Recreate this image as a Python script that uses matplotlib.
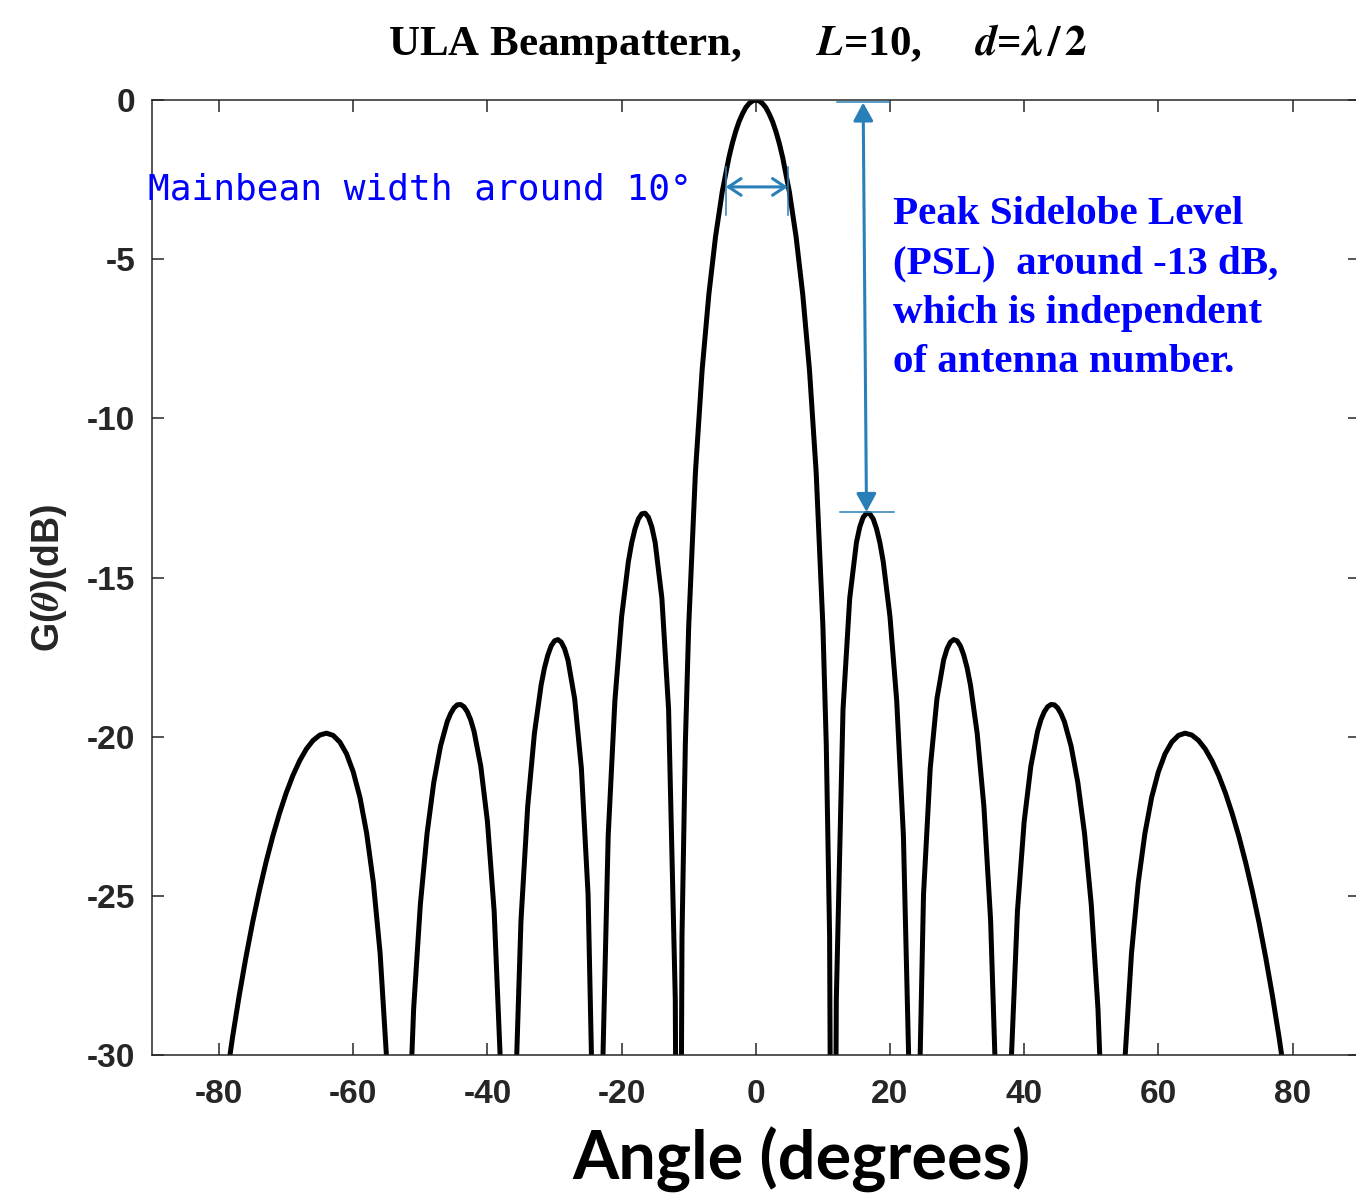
import matplotlib
matplotlib.use("Agg")
import matplotlib.pyplot as plt

# beampattern values (angle in degrees, gain in dB)
angle_right = [0, 0.5, 1, 1.5, 2, 2.5, 3, 3.5, 4, 5, 6, 7, 8, 9, 10, 10.5, 11, 11.5, 12,
               13, 14, 15, 15.5, 16, 16.5, 17, 17.5, 18, 18.5, 19, 20, 21, 22, 23, 23.5,
               24, 25, 26, 27, 28, 28.5, 29, 29.5, 30, 30.5, 31, 31.5, 32, 33, 34, 35,
               36, 36.8, 37, 38, 39, 40, 41, 42, 42.5, 43, 43.5, 44, 44.5, 45, 45.5, 46,
               47, 48, 49, 50, 51, 52, 53, 54, 55, 56, 57, 58, 59, 60, 61, 62, 63, 64,
               65, 66, 67, 68, 69, 70, 71, 72, 73, 74, 75, 76, 77, 78, 79, 80]
gain_right = [0.00, -0.03, -0.11, -0.24, -0.44, -0.68, -0.99, -1.36, -1.80, -2.88, -4.29,
              -6.11, -8.48, -11.70, -16.52, -20.21, -26.25, -49.8, -28.26,
              -19.14, -15.65, -13.90, -13.41, -13.11, -12.98, -13.00, -13.16, -13.47,
              -13.91, -14.51, -16.23, -18.86, -23.10, -31.98, -49.5,
              -35.04, -24.96, -20.99, -18.81, -17.59, -17.24, -17.03, -16.95, -16.99,
              -17.15, -17.44, -17.84, -18.38, -19.90, -22.19, -25.77,
              -32.43, -54.4, -49.1, -30.58, -25.48, -22.67, -20.92, -19.83, -19.47,
              -19.22, -19.06, -18.99, -19.00, -19.10, -19.28, -19.53,
              -20.30, -21.44, -23.04, -25.27, -28.54, -34.06, -52.9, -36.61, -30.21,
              -26.80, -24.59, -23.04, -21.91, -21.11, -20.54, -20.17, -19.96, -19.89,
              -19.95, -20.12, -20.39, -20.76, -21.22, -21.77, -22.41, -23.13, -23.94,
              -24.84, -25.83, -26.93, -28.13, -29.45, -30.91, -32.53]
angle_left = [-80, -79, -78, -77, -76, -75, -74, -73, -72, -71, -70, -69, -68, -67, -66,
              -65, -64, -63, -62, -61, -60, -59, -58, -57, -56, -55, -54, -53, -52, -51,
              -50, -49, -48, -47, -46, -45.5, -45, -44.5, -44, -43.5, -43, -42.5, -42,
              -41, -40, -39, -38, -37, -36.8, -36, -35, -34, -33, -32, -31.5, -31,
              -30.5, -30, -29.5, -29, -28.5, -28, -27, -26, -25, -24, -23.5, -23, -22,
              -21, -20, -19, -18.5, -18, -17.5, -17, -16.5, -16, -15.5, -15, -14, -13,
              -12, -11.5, -11, -10.5, -10, -9, -8, -7, -6, -5, -4, -3.5, -3, -2.5, -2,
              -1.5, -1, -0.5]
gain_left = [-32.53, -30.91, -29.45, -28.13, -26.93, -25.83, -24.84, -23.94, -23.13,
             -22.41, -21.77, -21.22, -20.76, -20.39, -20.12, -19.95, -19.89, -19.96,
             -20.17, -20.54, -21.11, -21.91, -23.04, -24.59, -26.80, -30.21, -36.61,
             -52.9, -34.06, -28.54, -25.27, -23.04, -21.44, -20.30, -19.53, -19.28,
             -19.10, -19.00, -18.99, -19.06, -19.22, -19.47, -19.83,
             -20.92, -22.67, -25.48, -30.58, -49.1, -54.4, -32.43, -25.77, -22.19,
             -19.90, -18.38, -17.84, -17.44, -17.15, -16.99, -16.95, -17.03, -17.24,
             -17.59, -18.81, -20.99, -24.96, -35.04, -49.5, -31.98, -23.10,
             -18.86, -16.23, -14.51, -13.91, -13.47, -13.16, -13.00, -12.98, -13.11,
             -13.41, -13.90, -15.65, -19.14,
             -28.26, -49.8, -26.25, -20.21, -16.52, -11.70, -8.48, -6.11, -4.29, -2.88,
             -1.80, -1.36, -0.99, -0.68, -0.44, -0.24, -0.11, -0.03]

x_ticks = [-80, -60, -40, -20, 0, 20, 40, 60, 80]
y_ticks = [0, -5, -10, -15, -20, -25, -30]

plt.rcParams["axes.unicode_minus"] = False
plt.rcParams["font.family"] = "Liberation Sans"
plt.rcParams["font.weight"] = "bold"

fig = plt.figure(figsize=(13.56, 12), dpi=100)
ax = fig.add_axes([152 / 1356, 145 / 1200, 1207.6 / 1356, 955 / 1200])

ax.plot(angle_left + angle_right, gain_left + gain_right, color="black", lw=3.6,
        solid_joinstyle="round")

ax.set_xlim(-90, 90)
ax.set_ylim(-30, 0)
ax.set_xticks(x_ticks)
ax.set_yticks(y_ticks)
ax.tick_params(direction="in", length=8.6, width=1.1, color="#262626",
               top=True, right=True, labelsize=24, labelcolor="#262626")
ax.tick_params(axis="x", pad=17)
ax.tick_params(axis="y", pad=12)
for s in ax.spines.values():
    s.set_linewidth(1.1)
    s.set_color("#262626")

ax.set_ylabel(r"G($\theta$)(dB)", fontsize=27, fontweight="bold", color="#262626",
              math_fontfamily="stix")
ax.yaxis.set_label_coords(-0.069, 0.5)

fig.text(801 / 1356, 0.017, "Angle (degrees)", family="Lato", fontweight="bold",
         fontsize=48, ha="center", va="baseline")

fig.text(738 / 1356, 1 - 55 / 1200,
         r"ULA Beampattern,       $\mathbfit{L}$=10,     $\mathbfit{d}$=$\lambda\,/\,2$",
         family="Liberation Serif", fontweight="bold", fontsize=31,
         ha="center", va="baseline", math_fontfamily="stix")

# annotations
c = "#2980b9"
ax.annotate("", xy=(-4.47, -2.73), xytext=(4.77, -2.73),
            arrowprops=dict(arrowstyle="<->,head_length=0.45,head_width=0.3",
                            color=c, lw=2.2, mutation_scale=20, shrinkA=0, shrinkB=0))
ax.plot([-4.47, -4.47], [-2.1, -3.61], color=c, lw=1.1)
ax.plot([4.77, 4.77], [-2.1, -3.61], color=c, lw=1.1)

ax.annotate("", xy=(16.0, -0.08), xytext=(16.5, -12.94),
            arrowprops=dict(arrowstyle="<|-|>,head_length=0.55,head_width=0.3",
                            color=c, lw=2.2, mutation_scale=20, shrinkA=0, shrinkB=0))
ax.plot([12.08, 19.98], [-0.05, -0.05], color=c, lw=1.1, clip_on=False)
ax.plot([12.5, 20.6], [-12.94, -12.94], color=c, lw=1.1)

ax.text(-90.6, -3.14, "Mainbean width around 10°", family="DejaVu Sans Mono",
        fontweight="normal", fontsize=26, color="#0000ff", va="baseline", ha="left")

ax.text(20.4, -3.0, "Peak Sidelobe Level\n(PSL)  around -13 dB,\nwhich is independent\nof antenna number.",
        family="Liberation Serif", fontweight="bold", fontsize=29.5, color="#0000ff",
        va="top", ha="left", linespacing=1.45)

fig.savefig("out.png", dpi=100)
